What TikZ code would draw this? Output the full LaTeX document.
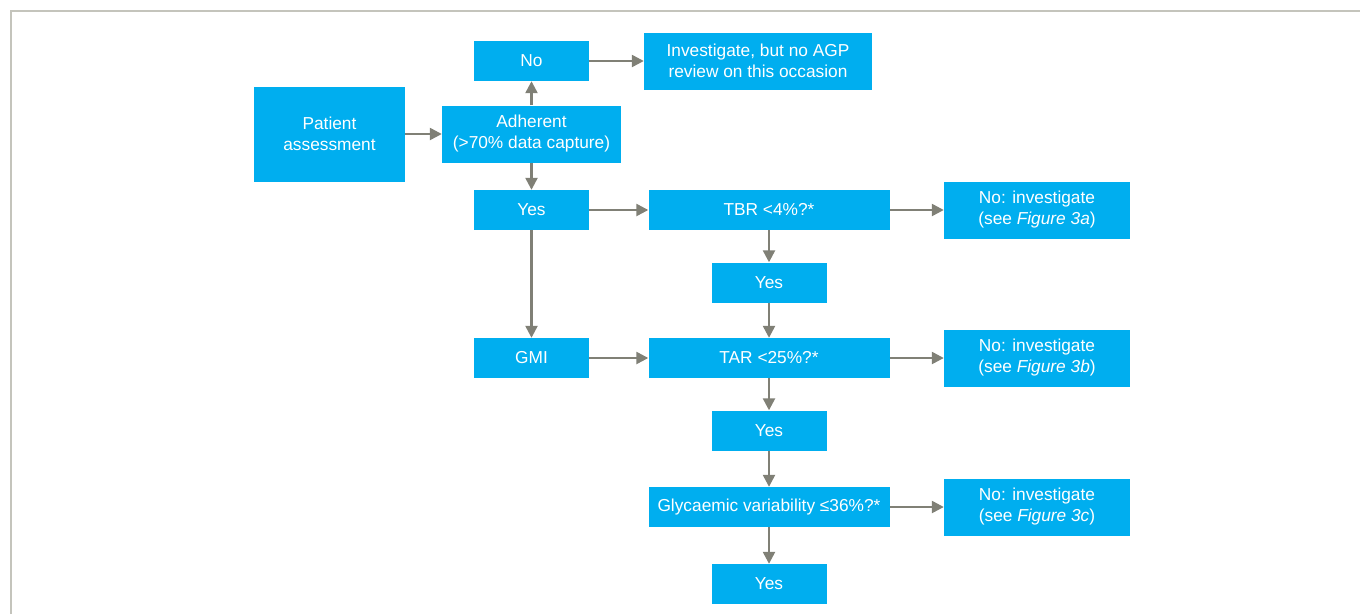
\documentclass[tikz,border=0pt]{standalone}
\usepackage{fontspec}
\setmainfont{Liberation Sans}
\usepackage{tikz}
\usetikzlibrary{calc}
\usetikzlibrary{positioning}
\usetikzlibrary{arrows.meta}

\definecolor{boxblue}{RGB}{0,174,239}
\definecolor{arrowgrey}{RGB}{128,128,118}
\definecolor{framegrey}{RGB}{196,196,188}

\begin{document}
\begin{tikzpicture}[x=1pt, y=-1pt,
        box/.style={rectangle, fill=boxblue, text=white, inner sep=0pt, align=center,
            font=\fontsize{17.3}{21}\selectfont, minimum width=115pt, minimum height=40pt},
        widebox/.style={box, minimum width=241pt},
        tallbox/.style={box, minimum width=186pt, minimum height=57pt},
        arr/.style={draw=arrowgrey, line width=2.4pt, -{Triangle[length=12pt, width=12pt]}}]
        \useasboundingbox (0, 0) rectangle (1360, 614);
        \draw[framegrey, line width=1.5pt] (11, 614) -- (11, 11) -- (1360, 11);

        % left part
        \node[box, minimum width=151pt, minimum height=95pt] (patient) at (329.5, 134) {Patient\\assessment};
        \node[box, minimum width=179pt, minimum height=57pt] (adherent) at (531.5, 134) {Adherent\\(>70\% data capture)};
        \node[box] (no) at (531.5, 61) {No};
        \node[box, minimum width=228pt, minimum height=57pt] (review) at (758, 61) {Investigate, but no AGP\\review on this occasion};
        \node[box] (yesA) at (531.5, 210) {Yes};
        \node[box] (gmi) at (531.5, 358) {GMI};

        % checks
        \node[widebox] (tbr) at (769, 210) {TBR <4\%?*};
        \node[widebox] (tar) at (769, 358) {TAR <25\%?*};
        \node[widebox] (gv) at (769, 507) {Glycaemic variability ≤36\%?*};
        \node[box] (yesB) at (769, 282.5) {Yes};
        \node[box] (yesC) at (769, 430.5) {Yes};
        \node[box] (yesD) at (769, 584) {Yes};

        % investigate boxes
        \foreach \n/\y/\f in {noA/210/3a, noB/358/3b, noC/507/3c}
        {
            \node[tallbox] (\n) at (1037, \y) {No: investigate\\(see \textit{Figure \f})};
        }

        \draw[arr] (patient) -- (adherent);
        \draw[arr] (adherent) -- (no);
        \draw[arr] (no) -- (review);
        \draw[arr] (adherent) -- (yesA);
        \draw[arr] (yesA) -- (gmi);
        \draw[arr] (yesA) -- (tbr);
        \draw[arr] (gmi) -- (tar);
        \draw[arr] (tbr) -- (noA);
        \draw[arr] (tar) -- (noB);
        \draw[arr] (gv) -- (noC);
        \draw[arr] (tbr) -- (yesB);
        \draw[arr] (yesB) -- (tar);
        \draw[arr] (tar) -- (yesC);
        \draw[arr] (yesC) -- (gv);
        \draw[arr] (gv) -- (yesD);
    \end{tikzpicture}
\end{document}
